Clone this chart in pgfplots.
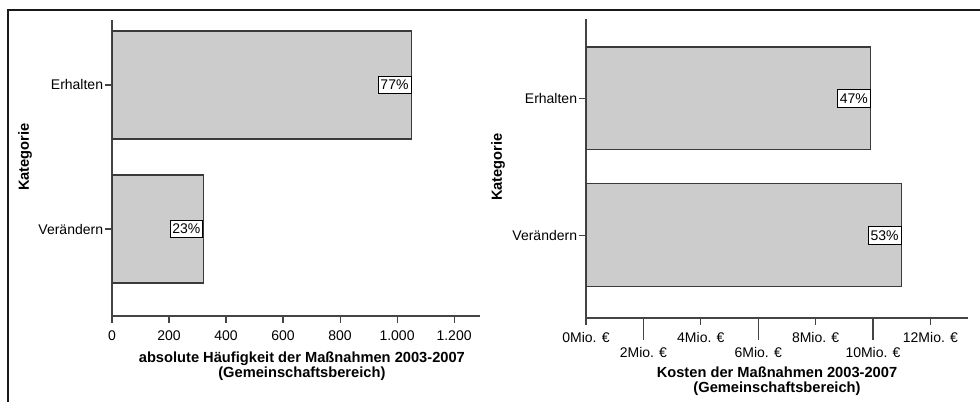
\documentclass[border=0pt]{standalone}
\usepackage{pgfplots}
\pgfplotsset{compat=1.18}
\usepackage{fontspec}
\setmainfont{Liberation Sans}
\definecolor{barfill}{HTML}{CCCCCC}
\definecolor{bardraw}{HTML}{3A3A3A}
\definecolor{axiscol}{HTML}{444444}
\pgfplotsset{
  spssbar/.style={
    scale only axis, anchor=south west,
    xbar, axis x line=bottom, axis y line=left,
    axis line style={-, draw=axiscol, line width=0.8pt},
    tick align=outside, major tick length=5pt,
    every tick/.style={draw=axiscol, line width=0.8pt},
    ytick={0,1}, yticklabels={Verändern,Erhalten},
    yticklabel style={inner sep=1.5pt},
    xticklabel style={inner sep=2pt, yshift=-3.5pt},
    /pgf/number format/assume math mode=true,
    /pgf/number format/1000 sep={.},
    nodes near coords, point meta=explicit symbolic,
    every node near coord/.append style={anchor=east, draw=black, fill=white,
      line width=0.6pt, inner xsep=1.8pt, inner ysep=2.8pt,
      font=\fontsize{10.5}{12}\selectfont},
    every axis x label/.style={anchor=north, align=center, inner sep=0pt,
      font=\bfseries\fontsize{11}{11.25}\selectfont},
    every axis y label/.style={anchor=center, rotate=90, inner sep=0pt,
      font=\bfseries\fontsize{11}{12}\selectfont},
  }
}
\begin{document}
\fontsize{10.5}{12.6}\selectfont
\begin{tikzpicture}
\begin{scope}[x=0.75pt,y=-0.75pt]
\useasboundingbox (0,0) rectangle (980,401);
\draw[line width=1.5pt, color=black!90] (8,403) -- (8,10) -- (982,10);
\end{scope}
% left chart
\begin{axis}[spssbar, at={(84pt,-237pt)},
  width=276pt, height=222pt, bar width=81pt,
  xmin=0, xmax=1291, ymin=-0.604, ymax=1.451,
  xtick={0,200,400,600,800,1000,1200},
  xlabel={absolute Häufigkeit der Maßnahmen 2003-2007\\(Gemeinschaftsbereich)},
  x label style={at={(axis description cs:0.516,0)}, yshift=-26.5pt},
  ylabel={Kategorie},
  y label style={at={(axis description cs:-0.2364,0.537)}},
]
\addplot[fill=barfill, draw=bardraw, line width=0.8pt]
  coordinates {(1050,1) [77\%] (320,0) [23\%]};
\end{axis}
% right chart
\begin{axis}[spssbar, at={(439.5pt,-238.5pt)},
  width=286.5pt, height=224.25pt, bar width=77pt,
  xmin=0, xmax=13.31, ymin=-0.604, ymax=1.579,
  xtick={0,4,8,12},
  xticklabels={0Mio. €,4Mio. €,8Mio. €,12Mio. €},
  extra x ticks={2,6,10},
  extra x tick labels={2Mio. €,6Mio. €,10Mio. €},
  extra x tick style={major tick length=16.5pt},
  xlabel={Kosten der Maßnahmen 2003-2007\\(Gemeinschaftsbereich)},
  x label style={at={(axis description cs:0.5,0)}, yshift=-36.5pt},
  ylabel={Kategorie},
  y label style={at={(axis description cs:-0.2304,0.505)}},
]
\addplot[fill=barfill, draw=bardraw, line width=0.8pt]
  coordinates {(9.92,1) [47\%] (10.99,0) [53\%]};
\end{axis}
\end{tikzpicture}
\end{document}
